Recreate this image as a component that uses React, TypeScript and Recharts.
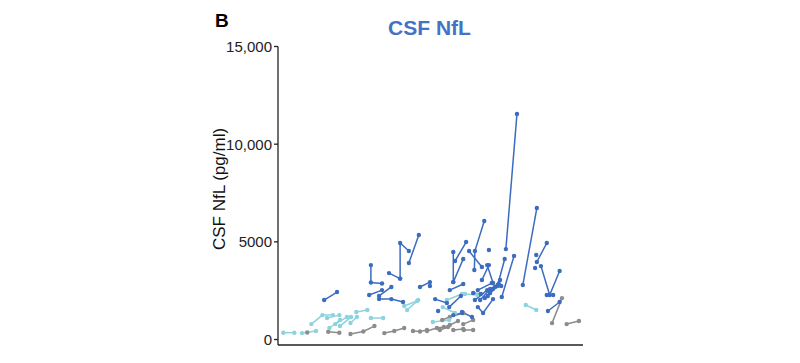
import React from 'react'
import { LineChart, Line, XAxis, YAxis } from 'recharts'

// each visit group = one subject, points are [age, NfL pg/ml]
const grayVisits: number[][][] = [
    [[40.0, 360]],
    [[43.6, 400], [45.5, 350]],
    [[47.4, 280], [49.6, 410], [51.5, 690]],
    [[53.2, 330], [54.9, 440], [56.6, 590]],
    [[58.1, 440], [59.3, 410], [60.5, 490]],
    [[60.5, 440], [62.2, 590], [63.4, 640]],
    [[63.1, 1000], [64.4, 1150], [66.7, 1360]],
    [[64.4, 740], [65.8, 950]],
    [[65.0, 490], [66.7, 540]],
    [[66.7, 790], [68.4, 1000]],
    [[66.8, 490], [68.4, 490]],
    [[62.7, 490], [64.1, 640]],
    [[83.6, 2120], [81.9, 840]],
    [[84.4, 790], [86.5, 950]]
]

const cyanVisits: number[][][] = [
    [[35.9, 350], [37.8, 350]],
    [[39.1, 330], [41.5, 435]],
    [[40.7, 790], [42.6, 1250], [44.4, 1250]],
    [[43.4, 1100], [45.5, 1250]],
    [[43.8, 590], [45.6, 1000]],
    [[44.8, 790], [46.8, 1150]],
    [[45.6, 690], [47.5, 1150]],
    [[48.4, 1410], [50.3, 1510]],
    [[47.4, 845], [48.5, 1150]],
    [[50.9, 1100], [53.0, 1100]],
    [[56.6, 1715], [58.8, 1970]],
    [[57.1, 1510], [59.0, 2020]],
    [[63.9, 2020], [66.5, 2330]],
    [[67.0, 2330], [69.1, 2280]],
    [[63.2, 1660], [65.3, 1360]],
    [[61.5, 900], [64.3, 1000]],
    [[77.4, 1770], [79.2, 1510]]
]

const blueVisits: number[][][] = [
    [[42.9, 2020], [45.1, 2430]],
    [[50.9, 3810], [50.9, 2920], [52.8, 2870]],
    [[54.0, 3400], [55.9, 3120]],
    [[55.9, 3120], [55.9, 4940], [57.4, 4530]],
    [[57.4, 3920], [59.1, 5350]],
    [[50.6, 2280], [52.8, 2530]],
    [[52.3, 2230], [54.4, 2690]],
    [[52.3, 2070], [54.4, 2070], [56.4, 1920]],
    [[59.3, 2690], [61.0, 2940]],
    [[61.0, 2740]],
    [[65.0, 4480], [65.0, 2940]],
    [[65.3, 4020], [67.2, 4990]],
    [[65.0, 2940], [66.7, 4120]],
    [[64.4, 2530], [66.7, 2840]],
    [[67.7, 4530], [69.9, 3710]],
    [[68.6, 3560], [68.7, 4530], [70.3, 6070]],
    [[69.9, 3050], [71.1, 3810]],
    [[71.1, 4580]],
    [[74.0, 4630], [75.9, 11550]],
    [[73.8, 4120], [72.6, 2790]],
    [[75.4, 4280], [73.3, 2180]],
    [[76.9, 2790], [79.3, 6730]],
    [[79.3, 3970], [81.0, 4940]],
    [[79.2, 4330]],
    [[79.0, 3660]],
    [[80.0, 3760], [81.5, 2280], [83.2, 3510]],
    [[81.0, 2280], [82.1, 2280]],
    [[81.2, 1460], [83.2, 1920]],
    [[61.9, 2070], [63.9, 1870]],
    [[64.3, 1660], [66.3, 2230]],
    [[62.4, 1460]],
    [[65.0, 1250], [66.5, 1360]],
    [[66.5, 1410], [68.2, 1150]],
    [[68.7, 2020], [70.8, 2530]],
    [[69.2, 1660], [70.1, 1360], [71.8, 2070]],
    [[68.4, 2380], [69.7, 2330]],
    [[69.2, 2530], [71.6, 2890]],
    [[70.4, 2120], [72.1, 2690]],
    [[70.9, 2230], [72.8, 2840]],
    [[69.6, 2020], [71.3, 2590]],
    [[71.3, 2380], [73.0, 3050]],
    [[71.8, 2590], [73.2, 2740]],
    [[70.8, 3810], [71.8, 2890]]
]

const xTicks = [40, 50, 60, 70, 80]
const yTicks = [0, 5000, 10000, 15000]
const yTickLabels = ['0', '5000', '10,000', '15,000']

const groups = [
    { name: 'gray', color: '#8c8c8c', visits: grayVisits },
    { name: 'cyan', color: '#8dd3de', visits: cyanVisits },
    { name: 'blue', color: '#3c6cc0', visits: blueVisits }
]

const font = '"Liberation Sans", Arial, sans-serif'

const App = () => {
    return (
        <div style={{ position: 'relative', width: 792, height: 355 }}>
            <LineChart
                width={792}
                height={355}
                margin={{ top: 38.5, right: 217, bottom: 6, left: 200 }}>
                <XAxis
                    type="number"
                    dataKey="x"
                    domain={[35, 87.2]}
                    ticks={xTicks}
                    tick={false}
                    tickSize={5}
                    height={12}
                    allowDataOverflow
                    stroke="#222"
                    strokeWidth={1.3} />
                <YAxis
                    type="number"
                    dataKey="y"
                    domain={[-280, 15000]}
                    ticks={yTicks}
                    tickFormatter={(v: number) => yTickLabels[yTicks.indexOf(v)]}
                    tickSize={4}
                    tickMargin={2}
                    width={70}
                    allowDataOverflow
                    stroke="#222"
                    strokeWidth={1.3}
                    tick={{ fill: '#222', fontSize: 15, fontFamily: font }} />
                {groups.map(g =>
                    g.visits.map((v, i) => (
                        <Line
                            key={g.name + i}
                            data={v.map(p => ({ x: p[0], y: p[1] }))}
                            dataKey="y"
                            type="linear"
                            stroke={g.color}
                            strokeWidth={1.5}
                            dot={{ r: 2.2, fill: g.color, stroke: g.color, strokeWidth: 0 }}
                            activeDot={false}
                            isAnimationActive={false} />
                    ))
                )}
            </LineChart>
            <svg width={792} height={355}
                style={{ position: 'absolute', left: 0, top: 0, pointerEvents: 'none' }}>
                <text x={207} y={19} fontFamily={font} fontWeight="bold" fontSize={19} fill="#000">B</text>
                <text x={421.5} y={27} textAnchor="middle" fontFamily={font} fontWeight="bold"
                    fontSize={21} fill="#4472c4">CSF NfL</text>
                <text transform="translate(217,181) rotate(-90)" textAnchor="middle"
                    fontFamily={font} fontSize={17} fill="#111">CSF NfL (pg/ml)</text>
            </svg>
        </div>
    )
}

export default App
